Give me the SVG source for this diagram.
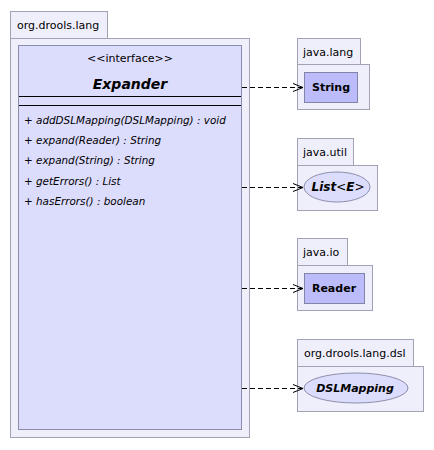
<svg xmlns="http://www.w3.org/2000/svg" width="434" height="450" viewBox="0 0 434 450">
<defs>
<style>
.pkg{fill:#efeffc;stroke:#a2a2b6;stroke-width:1}
.cls{fill:#dcdcfc;stroke:#8c8cac;stroke-width:1}
.ext{fill:#bcbcfa;stroke:#8484a8;stroke-width:1}
.ell{fill:#dcdcfc;stroke:#8c8cac;stroke-width:1}
.t{font-family:"DejaVu Sans",sans-serif;font-size:11px;fill:#000}
.m{font-family:"DejaVu Sans",sans-serif;font-size:10.4px;font-style:italic;fill:#000}
.b{font-family:"DejaVu Sans",sans-serif;font-size:11px;font-weight:bold;fill:#000}
.bi{font-family:"DejaVu Sans",sans-serif;font-size:11px;font-weight:bold;font-style:italic;fill:#000}
.dep{stroke:#000;stroke-width:1;stroke-dasharray:5,3;fill:none}
</style>
<marker id="open" markerWidth="12" markerHeight="10" refX="11" refY="5" orient="auto" markerUnits="userSpaceOnUse">
<path d="M1,1 L11,5 L1,9" fill="none" stroke="#000" stroke-width="1"/>
</marker>
</defs>
<g id="pkg-org-drools-lang">
<rect class="pkg" x="10.5" y="11.5" width="97" height="27"/>
<rect class="pkg" x="10.5" y="38.5" width="239" height="399"/>
<text class="t" x="17" y="29">org.drools.lang</text>
</g>
<g id="Expander">
<rect class="cls" x="18.5" y="45.5" width="223" height="384"/>
<text class="t" x="130" y="62" text-anchor="middle">&lt;&lt;interface&gt;&gt;</text>
<text class="bi" x="130" y="89" text-anchor="middle" style="font-size:14px">Expander</text>
<line x1="19" y1="96.5" x2="241" y2="96.5" stroke="#000"/>
<line x1="19" y1="105.5" x2="241" y2="105.5" stroke="#000"/>
<text class="m" x="24" y="124">+ addDSLMapping(DSLMapping) : void</text>
<text class="m" x="24" y="144">+ expand(Reader) : String</text>
<text class="m" x="24" y="164">+ expand(String) : String</text>
<text class="m" x="24" y="185">+ getErrors() : List</text>
<text class="m" x="24" y="205">+ hasErrors() : boolean</text>
</g>
<g id="pkg-java-lang">
<rect class="pkg" x="297.5" y="38.5" width="63" height="26"/>
<rect class="pkg" x="297.5" y="64.5" width="72" height="45"/>
<text class="t" x="303" y="56">java.lang</text>
</g>
<g id="String">
<rect class="ext" x="304.5" y="72.5" width="53" height="30"/>
<text class="b" x="331" y="91" text-anchor="middle">String</text>
</g>
<g id="pkg-java-util">
<rect class="pkg" x="297.5" y="138.5" width="56" height="27"/>
<rect class="pkg" x="297.5" y="165.5" width="80" height="45"/>
<text class="t" x="303" y="156">java.util</text>
</g>
<g id="List">
<ellipse class="ell" cx="337" cy="187" rx="33" ry="15"/>
<text class="bi" x="338" y="191" text-anchor="middle" style="font-size:12px">List<tspan style="font-weight:normal">&lt;</tspan>E<tspan style="font-weight:normal">&gt;</tspan></text>
</g>
<g id="pkg-java-io">
<rect class="pkg" x="297.5" y="238.5" width="50" height="27"/>
<rect class="pkg" x="297.5" y="265.5" width="75" height="45"/>
<text class="t" x="303" y="256">java.io</text>
</g>
<g id="Reader">
<rect class="ext" x="304.5" y="273.5" width="60" height="30"/>
<text class="b" x="334" y="292" text-anchor="middle">Reader</text>
</g>
<g id="pkg-org-drools-lang-dsl">
<rect class="pkg" x="297.5" y="339.5" width="116" height="27"/>
<rect class="pkg" x="297.5" y="366.5" width="126" height="45"/>
<text class="t" x="304" y="357">org.drools.lang.dsl</text>
</g>
<g id="DSLMapping">
<ellipse class="ell" cx="356" cy="388" rx="52" ry="15"/>
<text class="bi" x="355" y="392" text-anchor="middle">DSLMapping</text>
</g>
<g id="connectors">
<line class="dep" x1="242" y1="87.5" x2="303" y2="87.5" marker-end="url(#open)"/>
<line class="dep" x1="242" y1="187.5" x2="303" y2="187.5" marker-end="url(#open)"/>
<line class="dep" x1="242" y1="288.5" x2="303" y2="288.5" marker-end="url(#open)"/>
<line class="dep" x1="242" y1="388.5" x2="303" y2="388.5" marker-end="url(#open)"/>
</g>
</svg>
